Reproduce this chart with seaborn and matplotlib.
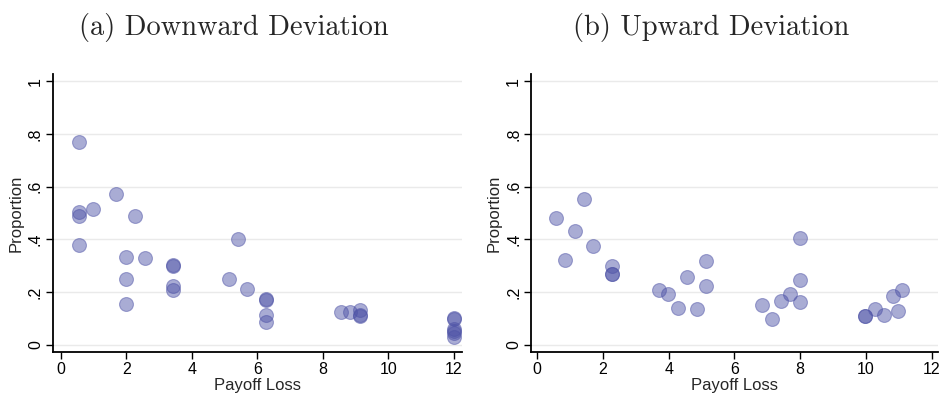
import matplotlib
matplotlib.use("Agg")
import matplotlib.pyplot as plt
import seaborn as sns
import pandas as pd

# Panel (a) Downward Deviation
down_loss = [0.56, 0.56, 0.56, 0.56, 0.98, 1.70, 2.28, 2.0, 2.0, 2.0, 2.56,
             3.42, 3.42, 3.42, 3.42, 5.41, 5.13, 5.70, 6.28, 6.28, 6.28, 6.28,
             8.56, 8.84, 9.13, 9.13, 9.13, 12, 12, 12, 12, 12, 12]
down_prop = [0.771, 0.504, 0.488, 0.378, 0.514, 0.571, 0.491, 0.333, 0.25, 0.154, 0.33,
             0.305, 0.300, 0.224, 0.21, 0.40, 0.25, 0.214, 0.176, 0.169, 0.113, 0.086,
             0.124, 0.124, 0.132, 0.113, 0.110, 0.102, 0.097, 0.060, 0.054, 0.044, 0.031]

# Panel (b) Upward Deviation
up_loss = [0.57, 0.85, 1.14, 1.42, 1.70, 2.28, 2.28, 2.28, 3.70, 3.99, 4.27, 4.55,
           4.85, 5.13, 5.13, 6.85, 7.13, 7.41, 7.70, 7.98, 7.98, 7.98, 9.98, 9.98,
           10.26, 10.55, 10.83, 10.97, 11.11]
up_prop = [0.483, 0.322, 0.434, 0.555, 0.375, 0.30, 0.27, 0.268, 0.21, 0.192, 0.141, 0.256,
           0.138, 0.32, 0.225, 0.15, 0.10, 0.168, 0.193, 0.405, 0.245, 0.161, 0.111, 0.110,
           0.137, 0.114, 0.187, 0.129, 0.209]

titles = ["(a) Downward Deviation", "(b) Upward Deviation"]
x_ticks = [0, 2, 4, 6, 8, 10, 12]
y_ticks = [0, 0.2, 0.4, 0.6, 0.8, 1.0]
y_ticklabels = ["0", ".2", ".4", ".6", ".8", "1"]

sns.set_style("white")
plt.rcParams['font.family'] = ['Liberation Sans', 'DejaVu Sans']

fig = plt.figure(figsize=(9.41, 3.96), dpi=100)
ax_a = fig.add_axes([0.056, 0.1104, 0.4346, 0.7027])
ax_b = fig.add_axes([0.564, 0.1104, 0.4331, 0.7027])

panels = [(ax_a, down_loss, down_prop, (-0.244, 12.24), 234),
          (ax_b, up_loss, up_prop, (-0.20, 12.2), 711)]

point_color = (0.30, 0.32, 0.65)

for i, (ax, xs, ys, xlim, tcx) in enumerate(panels):
    df = pd.DataFrame({"Payoff Loss": xs, "Proportion": ys})
    sns.scatterplot(data=df, x="Payoff Loss", y="Proportion", ax=ax,
                    color=point_color, alpha=0.48, s=100, edgecolor=point_color,
                    linewidth=0.8, zorder=3)
    ax.set_xlim(*xlim)
    ax.set_ylim(-0.028, 1.028)
    ax.set_xticks(x_ticks)
    ax.set_xticklabels([str(t) for t in x_ticks], fontsize=11.5)
    ax.set_yticks(y_ticks)
    ax.set_yticklabels(y_ticklabels, fontsize=11.5, rotation=90, va="center")
    ax.grid(axis="y", color="#eaeaea", linewidth=1.0, zorder=0)
    ax.grid(axis="x", visible=False)
    for side in ["top", "right"]:
        ax.spines[side].set_visible(False)
    for side in ["left", "bottom"]:
        ax.spines[side].set_color("black")
        ax.spines[side].set_linewidth(1.3)
    ax.tick_params(axis="both", direction="out", length=5, width=1.0,
                   color="black", pad=2, labelcolor="black")
    ax.tick_params(axis="both", which="both", bottom=True, left=True)
    ax.set_xlabel("Payoff Loss", fontsize=12, labelpad=1)
    ax.set_ylabel("Proportion", fontsize=12, labelpad=3)
    fig.text(tcx / 941, 1 - 27 / 396, titles[i], ha="center", va="center",
             fontsize=20.5, family="cmr10")

fig.savefig("out.png", dpi=100)
